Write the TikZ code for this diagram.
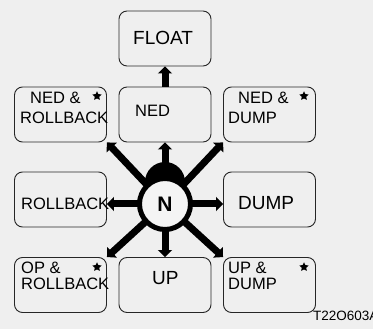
\documentclass[tikz,border=0pt]{standalone}
\usepackage{fontspec}
\setmainfont{Liberation Sans}
\usepackage{xcolor}
\usepackage{tikz}
\usetikzlibrary{positioning, shapes.geometric, arrows.meta, calc}

\definecolor{bggray}{HTML}{EFEFEF}
\definecolor{innergray}{HTML}{F4F4F4}

\begin{document}
\begin{tikzpicture}[
      x=1pt, y=-1pt,
      posbox/.style={draw=black!85, line width=0.9pt, rounded corners=8pt, minimum width=92pt, minimum height=55pt, inner sep=0pt},
      big/.style={inner sep=0pt, anchor=base west, font=\fontsize{19}{19}\selectfont},
      small/.style={inner sep=0pt, anchor=base west, font=\fontsize{16.5}{16.5}\selectfont},
      mark star/.style={star, star points=5, star point ratio=2, fill=black, inner sep=0pt, minimum size=9.5pt},
      move/.style={line width=7pt, -{Triangle[width=14pt, length=7pt]}}
    ]
      \fill[bggray] (0,0) rectangle (373,329);
      \useasboundingbox (0,0) rectangle (373,329);

      % positions of the lever
      \node[posbox] (float) at (165,38.5) {};
      \node[posbox] (nedrb) at (60.5,114.5) {};
      \node[posbox] (ned) at (165,114.5) {};
      \node[posbox] (neddump) at (269.5,114.5) {};
      \node[posbox] (rollback) at (60.5,199.5) {};
      \node[posbox] (dump) at (269.5,199.5) {};
      \node[posbox] (oprb) at (60.5,285) {};
      \node[posbox] (up) at (165,285) {};
      \node[posbox] (updump) at (269.5,285) {};

      % texts
      \node[big] (float-t) at (133,45) {FLOAT};
      \node[small] (nedrb-t1) at (30,104) {NED \&};
      \node[small] (nedrb-t2) at (20,124) {ROLLBACK};
      \node[small] (ned-t) at (135,117) {NED};
      \node[small] (neddump-t1) at (238,104) {NED \&};
      \node[small] (neddump-t2) at (228,124) {DUMP};
      \node[small] (rollback-t) at (21,210) {ROLLBACK};
      \node[big] (dump-t) at (238,210) {DUMP};
      \node[small] (oprb-t1) at (21,273) {OP \&};
      \node[small] (oprb-t2) at (21,290) {ROLLBACK};
      \node[big] (up-t) at (152,284) {UP};
      \node[small] (updump-t1) at (228,273) {UP \&};
      \node[small] (updump-t2) at (228,290) {DUMP};
      \node[inner sep=0pt, anchor=base west, font=\fontsize{13.5}{13.5}\selectfont] (code) at (313,320) {T22O603A};

      \node[mark star] (s1) at (97,96) {};
      \node[mark star] (s2) at (304,96) {};
      \node[mark star] (s3) at (97,267) {};
      \node[mark star] (s4) at (304,267) {};

      % lever moves
      \coordinate (c) at (165,204);
      \draw[move] (c) -- (ned.south);
      \draw[move] (ned.north) -- (float.south);
      \draw[move] (c) -- (nedrb.south east);
      \draw[move] (c) -- (neddump.south west);
      \draw[move] (c) -- (c -| rollback.east);
      \draw[move] (c) -- (c -| dump.west);
      \draw[move] (c) -- (oprb.north east);
      \draw[move] (c) -- (up.north);
      \draw[move] (c) -- (updump.north west);

      \fill (165,182) circle (20);
      \node[circle, draw=black, line width=5pt, fill=innergray, minimum size=51pt, inner sep=0pt, font=\fontsize{21}{21}\selectfont\bfseries] (N) at (c) {N};
    \end{tikzpicture}
\end{document}
